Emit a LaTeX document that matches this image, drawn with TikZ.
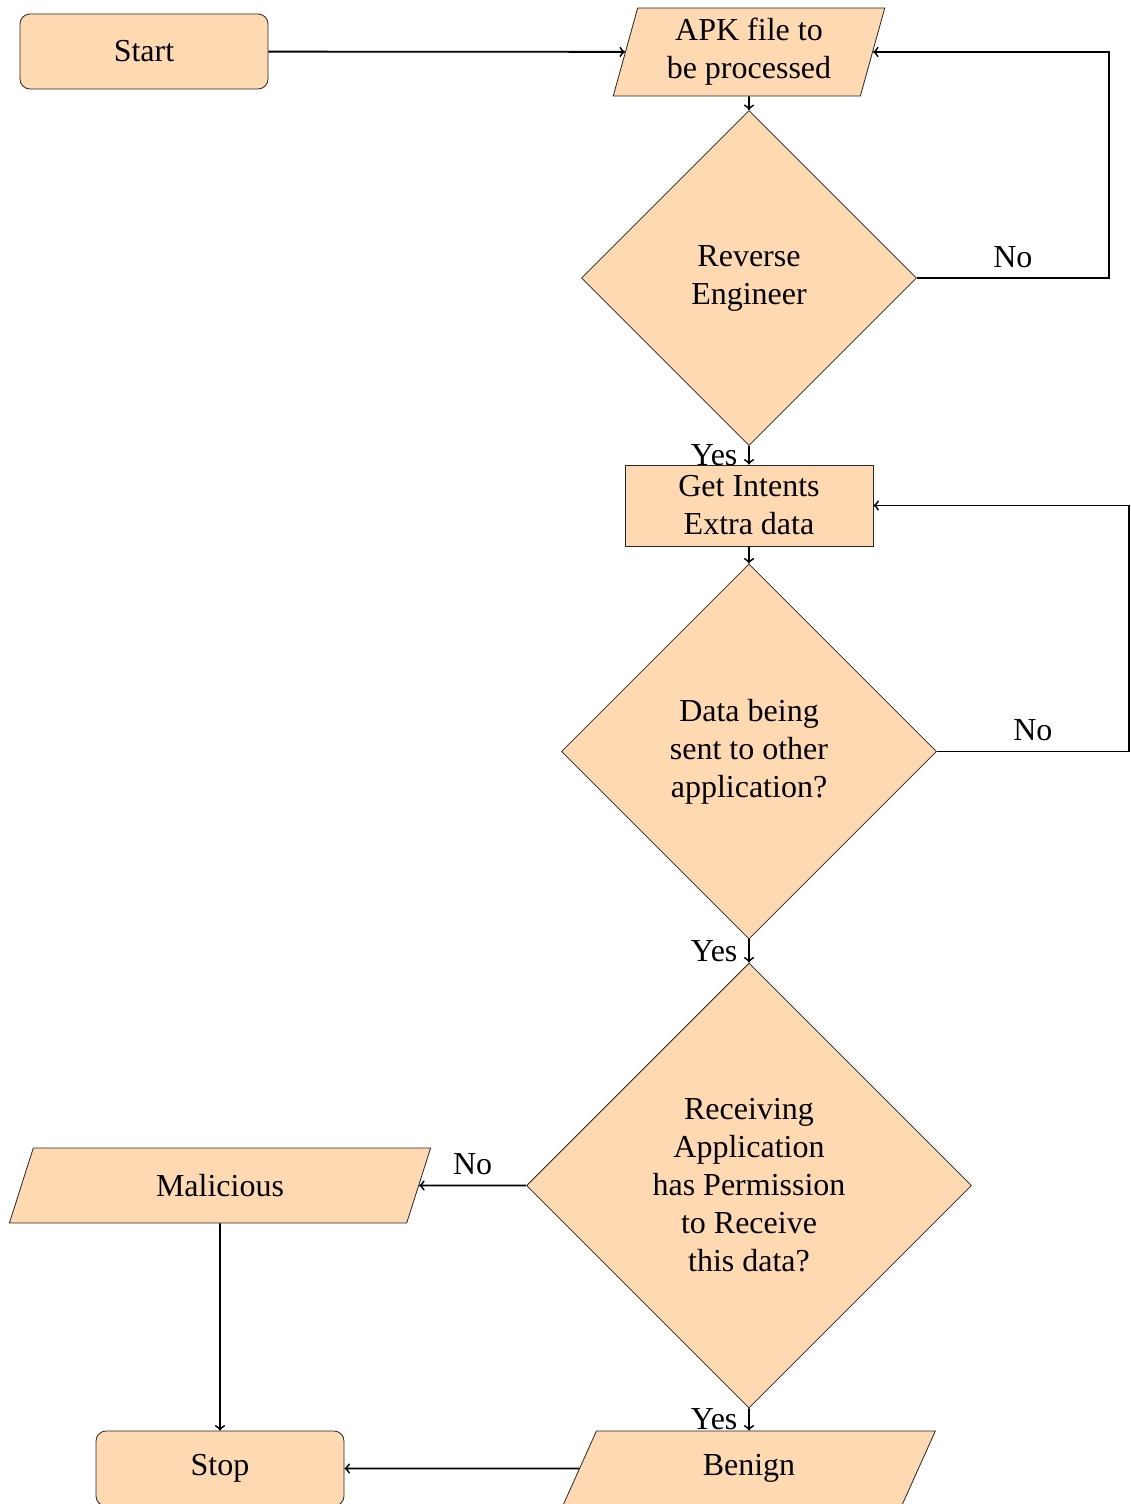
\documentclass[tikz,border=0pt]{standalone}
\usepackage{fontspec}
\setmainfont{Liberation Serif}
\usetikzlibrary{shapes.geometric}
\begin{document}
\begin{tikzpicture}[x=0.5pt,y=-0.5pt,
  font=\fontsize{16}{19}\selectfont,
  base/.style={draw=black!85, fill=orange!30, align=center, inner sep=0pt, line width=0.4pt},
  term/.style={base, rectangle, rounded corners=5pt, minimum width=124pt, minimum height=37.5pt},
  proc/.style={base, rectangle, minimum width=124pt, minimum height=40.5pt},
  io/.style={base, trapezium, trapezium left angle=70, trapezium right angle=110, trapezium stretches=true},
  dec/.style={base, diamond, aspect=1},
  conn/.style={->, line width=0.9pt},
  yeslbl/.style={left, xshift=-2pt},
  nolbl/.style={above, yshift=1.5pt}
]
\useasboundingbox (0,0) rectangle (1130,1504);

\node[term] (start) at (144,51.5) {Start};
\node[io, trapezium left angle=75, trapezium right angle=105, minimum width=137pt, minimum height=44pt] (apk) at (749,52) {APK file to\\be processed};
\node[dec, minimum width=167.5pt, minimum height=167.5pt] (d1) at (749,278) {Reverse\\Engineer};
\node[proc] (gi) at (749,505.5) {Get Intents\\Extra data};
\node[dec, minimum width=187.5pt, minimum height=187.5pt] (d2) at (749,751.5) {Data being\\sent to other\\application?};
\node[dec, minimum width=222.5pt, minimum height=222.5pt] (d3) at (749,1185.5) {Receiving\\Application\\has Permission\\to Receive\\this data?};
\node[io, minimum width=211.5pt, minimum height=37.5pt] (mal) at (220,1185.5) {Malicious};
\node[term] (stop) at (220,1468.5) {Stop};
\node[io, minimum width=186.5pt, minimum height=37.5pt] (ben) at (749,1468.5) {Benign};

\draw[conn] (start) -- (apk);
\draw[conn] (apk) -- (d1);
\draw[conn] (d1) -- node[yeslbl]{Yes} (gi);
\draw[conn] (d1.east) -- node[nolbl]{No} ++(192,0) |- (apk);
\draw[conn] (gi) -- (d2);
\draw[conn] (d2) -- node[yeslbl]{Yes} (d3);
\draw[conn] (d2.east) -- node[nolbl]{No} ++(192,0) |- (gi);
\draw[conn] (d3) -- node[nolbl]{No} (mal);
\draw[conn] (d3) -- node[yeslbl]{Yes} (ben);
\draw[conn] (mal) -- (stop);
\draw[conn] (ben) -- (stop);
\end{tikzpicture}
\end{document}
